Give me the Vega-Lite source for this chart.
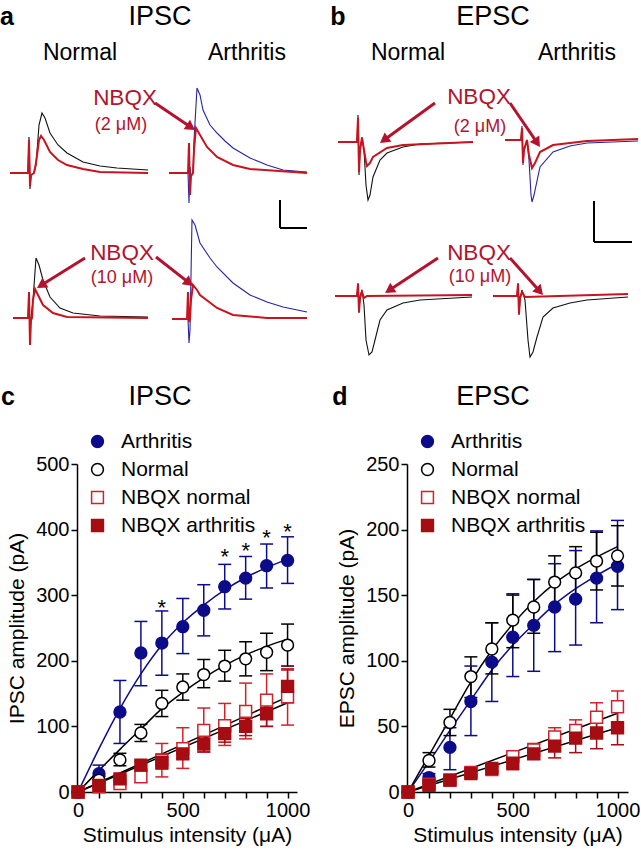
{
  "$schema": "https://vega.github.io/schema/vega-lite/v6.json",
  "padding": 0,
  "autosize": {"type": "pad"},
  "bounds": "flush",
  "columns": 2,
  "spacing": {"row": 34, "column": 110},
  "resolve": {
    "scale": {"stroke": "independent", "fill": "independent", "shape": "independent", "color": "independent", "angle": "independent"},
    "legend": {"stroke": "independent", "fill": "independent", "shape": "independent", "color": "independent"}
  },
  "datasets": {
    "tr": [
      {"pn":"a","s":"a1c","k":"ctl","x":10,"y":173},{"pn":"a","s":"a1c","k":"ctl","x":28,"y":173},{"pn":"a","s":"a1c","k":"ctl","x":29,"y":137},{"pn":"a","s":"a1c","k":"ctl","x":30,"y":189},{"pn":"a","s":"a1c","k":"ctl","x":31,"y":175},{"pn":"a","s":"a1c","k":"ctl","x":34,"y":173},{"pn":"a","s":"a1c","k":"ctl","x":36,"y":165},{"pn":"a","s":"a1c","k":"ctl","x":39,"y":125},{"pn":"a","s":"a1c","k":"ctl","x":42,"y":113},{"pn":"a","s":"a1c","k":"ctl","x":45,"y":118},{"pn":"a","s":"a1c","k":"ctl","x":50,"y":133},{"pn":"a","s":"a1c","k":"ctl","x":58,"y":145},{"pn":"a","s":"a1c","k":"ctl","x":67,"y":153},{"pn":"a","s":"a1c","k":"ctl","x":83,"y":162},{"pn":"a","s":"a1c","k":"ctl","x":100,"y":166},{"pn":"a","s":"a1c","k":"ctl","x":117,"y":168},{"pn":"a","s":"a1c","k":"ctl","x":148,"y":170},
      {"pn":"a","s":"a1n","k":"nbqx","x":10,"y":173},{"pn":"a","s":"a1n","k":"nbqx","x":28,"y":173},{"pn":"a","s":"a1n","k":"nbqx","x":29,"y":140},{"pn":"a","s":"a1n","k":"nbqx","x":30,"y":186},{"pn":"a","s":"a1n","k":"nbqx","x":31,"y":175},{"pn":"a","s":"a1n","k":"nbqx","x":34,"y":173},{"pn":"a","s":"a1n","k":"nbqx","x":36,"y":163},{"pn":"a","s":"a1n","k":"nbqx","x":39,"y":140},{"pn":"a","s":"a1n","k":"nbqx","x":41,"y":136},{"pn":"a","s":"a1n","k":"nbqx","x":44,"y":140},{"pn":"a","s":"a1n","k":"nbqx","x":50,"y":152},{"pn":"a","s":"a1n","k":"nbqx","x":58,"y":160},{"pn":"a","s":"a1n","k":"nbqx","x":67,"y":165},{"pn":"a","s":"a1n","k":"nbqx","x":83,"y":169},{"pn":"a","s":"a1n","k":"nbqx","x":100,"y":172},{"pn":"a","s":"a1n","k":"nbqx","x":148,"y":173},
      {"pn":"a","s":"a2c","k":"arth","x":169,"y":173},{"pn":"a","s":"a2c","k":"arth","x":188,"y":173},{"pn":"a","s":"a2c","k":"arth","x":189,"y":203},{"pn":"a","s":"a2c","k":"arth","x":190,"y":167},{"pn":"a","s":"a2c","k":"arth","x":191,"y":176},{"pn":"a","s":"a2c","k":"arth","x":193,"y":173},{"pn":"a","s":"a2c","k":"arth","x":194,"y":140},{"pn":"a","s":"a2c","k":"arth","x":197,"y":88},{"pn":"a","s":"a2c","k":"arth","x":200,"y":95},{"pn":"a","s":"a2c","k":"arth","x":203,"y":110},{"pn":"a","s":"a2c","k":"arth","x":210,"y":125},{"pn":"a","s":"a2c","k":"arth","x":217,"y":133},{"pn":"a","s":"a2c","k":"arth","x":225,"y":141},{"pn":"a","s":"a2c","k":"arth","x":233,"y":148},{"pn":"a","s":"a2c","k":"arth","x":250,"y":158},{"pn":"a","s":"a2c","k":"arth","x":267,"y":165},{"pn":"a","s":"a2c","k":"arth","x":283,"y":170},{"pn":"a","s":"a2c","k":"arth","x":307,"y":172},
      {"pn":"a","s":"a2n","k":"nbqx","x":169,"y":173},{"pn":"a","s":"a2n","k":"nbqx","x":188,"y":173},{"pn":"a","s":"a2n","k":"nbqx","x":189,"y":143},{"pn":"a","s":"a2n","k":"nbqx","x":190,"y":195},{"pn":"a","s":"a2n","k":"nbqx","x":191,"y":176},{"pn":"a","s":"a2n","k":"nbqx","x":193,"y":173},{"pn":"a","s":"a2n","k":"nbqx","x":194,"y":150},{"pn":"a","s":"a2n","k":"nbqx","x":196,"y":128},{"pn":"a","s":"a2n","k":"nbqx","x":200,"y":135},{"pn":"a","s":"a2n","k":"nbqx","x":207,"y":147},{"pn":"a","s":"a2n","k":"nbqx","x":217,"y":157},{"pn":"a","s":"a2n","k":"nbqx","x":233,"y":165},{"pn":"a","s":"a2n","k":"nbqx","x":250,"y":169},{"pn":"a","s":"a2n","k":"nbqx","x":307,"y":173},
      {"pn":"a","s":"a3c","k":"ctl","x":13,"y":318},{"pn":"a","s":"a3c","k":"ctl","x":28,"y":318},{"pn":"a","s":"a3c","k":"ctl","x":29,"y":300},{"pn":"a","s":"a3c","k":"ctl","x":30,"y":330},{"pn":"a","s":"a3c","k":"ctl","x":31,"y":318},{"pn":"a","s":"a3c","k":"ctl","x":33,"y":300},{"pn":"a","s":"a3c","k":"ctl","x":36,"y":258},{"pn":"a","s":"a3c","k":"ctl","x":39,"y":265},{"pn":"a","s":"a3c","k":"ctl","x":43,"y":280},{"pn":"a","s":"a3c","k":"ctl","x":50,"y":297},{"pn":"a","s":"a3c","k":"ctl","x":60,"y":308},{"pn":"a","s":"a3c","k":"ctl","x":73,"y":313},{"pn":"a","s":"a3c","k":"ctl","x":100,"y":316},{"pn":"a","s":"a3c","k":"ctl","x":148,"y":317},
      {"pn":"a","s":"a3n","k":"nbqx","x":13,"y":318},{"pn":"a","s":"a3n","k":"nbqx","x":28,"y":318},{"pn":"a","s":"a3n","k":"nbqx","x":29,"y":292},{"pn":"a","s":"a3n","k":"nbqx","x":30,"y":345},{"pn":"a","s":"a3n","k":"nbqx","x":31,"y":320},{"pn":"a","s":"a3n","k":"nbqx","x":32,"y":318},{"pn":"a","s":"a3n","k":"nbqx","x":33,"y":300},{"pn":"a","s":"a3n","k":"nbqx","x":35,"y":289},{"pn":"a","s":"a3n","k":"nbqx","x":38,"y":295},{"pn":"a","s":"a3n","k":"nbqx","x":43,"y":305},{"pn":"a","s":"a3n","k":"nbqx","x":53,"y":313},{"pn":"a","s":"a3n","k":"nbqx","x":67,"y":317},{"pn":"a","s":"a3n","k":"nbqx","x":148,"y":318},
      {"pn":"a","s":"a4c","k":"arth","x":172,"y":319},{"pn":"a","s":"a4c","k":"arth","x":188,"y":319},{"pn":"a","s":"a4c","k":"arth","x":189,"y":343},{"pn":"a","s":"a4c","k":"arth","x":190,"y":330},{"pn":"a","s":"a4c","k":"arth","x":192,"y":220},{"pn":"a","s":"a4c","k":"arth","x":195,"y":225},{"pn":"a","s":"a4c","k":"arth","x":200,"y":243},{"pn":"a","s":"a4c","k":"arth","x":210,"y":258},{"pn":"a","s":"a4c","k":"arth","x":217,"y":267},{"pn":"a","s":"a4c","k":"arth","x":233,"y":283},{"pn":"a","s":"a4c","k":"arth","x":250,"y":295},{"pn":"a","s":"a4c","k":"arth","x":267,"y":302},{"pn":"a","s":"a4c","k":"arth","x":283,"y":307},{"pn":"a","s":"a4c","k":"arth","x":307,"y":312},
      {"pn":"a","s":"a4n","k":"nbqx","x":172,"y":319},{"pn":"a","s":"a4n","k":"nbqx","x":187,"y":319},{"pn":"a","s":"a4n","k":"nbqx","x":188,"y":292},{"pn":"a","s":"a4n","k":"nbqx","x":189,"y":322},{"pn":"a","s":"a4n","k":"nbqx","x":190,"y":319},{"pn":"a","s":"a4n","k":"nbqx","x":191,"y":300},{"pn":"a","s":"a4n","k":"nbqx","x":193,"y":285},{"pn":"a","s":"a4n","k":"nbqx","x":197,"y":290},{"pn":"a","s":"a4n","k":"nbqx","x":200,"y":295},{"pn":"a","s":"a4n","k":"nbqx","x":217,"y":308},{"pn":"a","s":"a4n","k":"nbqx","x":233,"y":315},{"pn":"a","s":"a4n","k":"nbqx","x":267,"y":318},{"pn":"a","s":"a4n","k":"nbqx","x":307,"y":318},
      {"pn":"b","s":"b1c","k":"ctl","x":338,"y":142},{"pn":"b","s":"b1c","k":"ctl","x":357,"y":142},{"pn":"b","s":"b1c","k":"ctl","x":358,"y":115},{"pn":"b","s":"b1c","k":"ctl","x":359,"y":175},{"pn":"b","s":"b1c","k":"ctl","x":360,"y":150},{"pn":"b","s":"b1c","k":"ctl","x":362,"y":137},{"pn":"b","s":"b1c","k":"ctl","x":364,"y":150},{"pn":"b","s":"b1c","k":"ctl","x":366,"y":185},{"pn":"b","s":"b1c","k":"ctl","x":368,"y":200},{"pn":"b","s":"b1c","k":"ctl","x":370,"y":195},{"pn":"b","s":"b1c","k":"ctl","x":373,"y":177},{"pn":"b","s":"b1c","k":"ctl","x":380,"y":160},{"pn":"b","s":"b1c","k":"ctl","x":387,"y":153},{"pn":"b","s":"b1c","k":"ctl","x":403,"y":147},{"pn":"b","s":"b1c","k":"ctl","x":420,"y":144},{"pn":"b","s":"b1c","k":"ctl","x":473,"y":142},
      {"pn":"b","s":"b1n","k":"nbqx","x":338,"y":142},{"pn":"b","s":"b1n","k":"nbqx","x":357,"y":142},{"pn":"b","s":"b1n","k":"nbqx","x":358,"y":118},{"pn":"b","s":"b1n","k":"nbqx","x":359,"y":172},{"pn":"b","s":"b1n","k":"nbqx","x":360,"y":150},{"pn":"b","s":"b1n","k":"nbqx","x":362,"y":138},{"pn":"b","s":"b1n","k":"nbqx","x":364,"y":150},{"pn":"b","s":"b1n","k":"nbqx","x":366,"y":162},{"pn":"b","s":"b1n","k":"nbqx","x":367,"y":166},{"pn":"b","s":"b1n","k":"nbqx","x":370,"y":163},{"pn":"b","s":"b1n","k":"nbqx","x":373,"y":157},{"pn":"b","s":"b1n","k":"nbqx","x":387,"y":148},{"pn":"b","s":"b1n","k":"nbqx","x":403,"y":145},{"pn":"b","s":"b1n","k":"nbqx","x":473,"y":142},
      {"pn":"b","s":"b2c","k":"arth","x":505,"y":140},{"pn":"b","s":"b2c","k":"arth","x":521,"y":140},{"pn":"b","s":"b2c","k":"arth","x":522,"y":126},{"pn":"b","s":"b2c","k":"arth","x":523,"y":165},{"pn":"b","s":"b2c","k":"arth","x":524,"y":150},{"pn":"b","s":"b2c","k":"arth","x":527,"y":140},{"pn":"b","s":"b2c","k":"arth","x":529,"y":160},{"pn":"b","s":"b2c","k":"arth","x":531,"y":195},{"pn":"b","s":"b2c","k":"arth","x":532,"y":202},{"pn":"b","s":"b2c","k":"arth","x":534,"y":195},{"pn":"b","s":"b2c","k":"arth","x":540,"y":167},{"pn":"b","s":"b2c","k":"arth","x":553,"y":152},{"pn":"b","s":"b2c","k":"arth","x":570,"y":146},{"pn":"b","s":"b2c","k":"arth","x":587,"y":143},{"pn":"b","s":"b2c","k":"arth","x":638,"y":141},
      {"pn":"b","s":"b2n","k":"nbqx","x":505,"y":140},{"pn":"b","s":"b2n","k":"nbqx","x":521,"y":140},{"pn":"b","s":"b2n","k":"nbqx","x":522,"y":128},{"pn":"b","s":"b2n","k":"nbqx","x":523,"y":163},{"pn":"b","s":"b2n","k":"nbqx","x":524,"y":150},{"pn":"b","s":"b2n","k":"nbqx","x":527,"y":140},{"pn":"b","s":"b2n","k":"nbqx","x":529,"y":155},{"pn":"b","s":"b2n","k":"nbqx","x":532,"y":168},{"pn":"b","s":"b2n","k":"nbqx","x":535,"y":163},{"pn":"b","s":"b2n","k":"nbqx","x":540,"y":152},{"pn":"b","s":"b2n","k":"nbqx","x":553,"y":145},{"pn":"b","s":"b2n","k":"nbqx","x":587,"y":141},{"pn":"b","s":"b2n","k":"nbqx","x":638,"y":139},
      {"pn":"b","s":"b3c","k":"ctl","x":335,"y":296},{"pn":"b","s":"b3c","k":"ctl","x":357,"y":296},{"pn":"b","s":"b3c","k":"ctl","x":358,"y":283},{"pn":"b","s":"b3c","k":"ctl","x":359,"y":313},{"pn":"b","s":"b3c","k":"ctl","x":360,"y":296},{"pn":"b","s":"b3c","k":"ctl","x":362,"y":290},{"pn":"b","s":"b3c","k":"ctl","x":364,"y":305},{"pn":"b","s":"b3c","k":"ctl","x":366,"y":340},{"pn":"b","s":"b3c","k":"ctl","x":369,"y":355},{"pn":"b","s":"b3c","k":"ctl","x":372,"y":352},{"pn":"b","s":"b3c","k":"ctl","x":375,"y":340},{"pn":"b","s":"b3c","k":"ctl","x":380,"y":320},{"pn":"b","s":"b3c","k":"ctl","x":387,"y":310},{"pn":"b","s":"b3c","k":"ctl","x":403,"y":303},{"pn":"b","s":"b3c","k":"ctl","x":420,"y":300},{"pn":"b","s":"b3c","k":"ctl","x":472,"y":297},
      {"pn":"b","s":"b3n","k":"nbqx","x":335,"y":296},{"pn":"b","s":"b3n","k":"nbqx","x":357,"y":296},{"pn":"b","s":"b3n","k":"nbqx","x":358,"y":284},{"pn":"b","s":"b3n","k":"nbqx","x":359,"y":312},{"pn":"b","s":"b3n","k":"nbqx","x":360,"y":298},{"pn":"b","s":"b3n","k":"nbqx","x":362,"y":292},{"pn":"b","s":"b3n","k":"nbqx","x":364,"y":298},{"pn":"b","s":"b3n","k":"nbqx","x":367,"y":296},{"pn":"b","s":"b3n","k":"nbqx","x":472,"y":295},
      {"pn":"b","s":"b4c","k":"ctl","x":493,"y":296},{"pn":"b","s":"b4c","k":"ctl","x":517,"y":296},{"pn":"b","s":"b4c","k":"ctl","x":518,"y":283},{"pn":"b","s":"b4c","k":"ctl","x":519,"y":315},{"pn":"b","s":"b4c","k":"ctl","x":520,"y":300},{"pn":"b","s":"b4c","k":"ctl","x":522,"y":290},{"pn":"b","s":"b4c","k":"ctl","x":525,"y":300},{"pn":"b","s":"b4c","k":"ctl","x":528,"y":340},{"pn":"b","s":"b4c","k":"ctl","x":530,"y":357},{"pn":"b","s":"b4c","k":"ctl","x":533,"y":352},{"pn":"b","s":"b4c","k":"ctl","x":537,"y":337},{"pn":"b","s":"b4c","k":"ctl","x":543,"y":317},{"pn":"b","s":"b4c","k":"ctl","x":553,"y":308},{"pn":"b","s":"b4c","k":"ctl","x":570,"y":303},{"pn":"b","s":"b4c","k":"ctl","x":587,"y":300},{"pn":"b","s":"b4c","k":"ctl","x":628,"y":297},
      {"pn":"b","s":"b4n","k":"nbqx","x":493,"y":296},{"pn":"b","s":"b4n","k":"nbqx","x":517,"y":296},{"pn":"b","s":"b4n","k":"nbqx","x":518,"y":284},{"pn":"b","s":"b4n","k":"nbqx","x":519,"y":314},{"pn":"b","s":"b4n","k":"nbqx","x":520,"y":298},{"pn":"b","s":"b4n","k":"nbqx","x":522,"y":292},{"pn":"b","s":"b4n","k":"nbqx","x":525,"y":297},{"pn":"b","s":"b4n","k":"nbqx","x":628,"y":294}
    ],
    "txt": [
      {"pn":"a","kind":"letter","x":7,"y":17,"t":"a"},
      {"pn":"a","kind":"head","x":160,"y":17,"t":"IPSC"},
      {"pn":"a","kind":"sub","x":80,"y":53,"t":"Normal"},
      {"pn":"a","kind":"sub","x":247,"y":53,"t":"Arthritis"},
      {"pn":"a","kind":"nbqx","x":125,"y":98,"t":"NBQX"},
      {"pn":"a","kind":"conc","x":121,"y":125,"t":"(2 μM)"},
      {"pn":"a","kind":"nbqx","x":122,"y":253,"t":"NBQX"},
      {"pn":"a","kind":"conc","x":122,"y":278,"t":"(10 μM)"},
      {"pn":"a","kind":"letter","x":8,"y":397,"t":"c"},
      {"pn":"a","kind":"head","x":160,"y":397,"t":"IPSC"},
      {"pn":"b","kind":"letter","x":338,"y":17,"t":"b"},
      {"pn":"b","kind":"head","x":493,"y":17,"t":"EPSC"},
      {"pn":"b","kind":"sub","x":408,"y":53,"t":"Normal"},
      {"pn":"b","kind":"sub","x":577,"y":53,"t":"Arthritis"},
      {"pn":"b","kind":"nbqx","x":479,"y":97,"t":"NBQX"},
      {"pn":"b","kind":"conc","x":480,"y":127,"t":"(2 μM)"},
      {"pn":"b","kind":"nbqx","x":479,"y":253,"t":"NBQX"},
      {"pn":"b","kind":"conc","x":480,"y":277,"t":"(10 μM)"},
      {"pn":"b","kind":"letter","x":340,"y":397,"t":"d"},
      {"pn":"b","kind":"head","x":493,"y":397,"t":"EPSC"}
    ],
    "arr": [
      {"pn":"a","x":155,"y":103,"x2":190.9,"y2":127.2,"ang":34},
      {"pn":"a","x":85,"y":258,"x2":41.2,"y2":285.3,"ang":148},
      {"pn":"a","x":156,"y":257,"x2":189.1,"y2":282.9,"ang":38},
      {"pn":"b","x":435,"y":103,"x2":384,"y2":140,"ang":144},
      {"pn":"b","x":510,"y":103,"x2":537.2,"y2":142.9,"ang":56},
      {"pn":"b","x":438,"y":258,"x2":389.2,"y2":290.2,"ang":146.6},
      {"pn":"b","x":510,"y":258,"x2":539.7,"y2":291.3,"ang":48}
    ],
    "bar": [
      {"pn":"a","x":280,"y":200,"x2":280,"y2":228},
      {"pn":"a","x":280,"y":228,"x2":307,"y2":228},
      {"pn":"b","x":594,"y":201,"x2":594,"y2":242},
      {"pn":"b","x":594,"y":242,"x2":632,"y2":242}
    ],
    "cp": [
      {"grp":"Arthritis","I":0,"v":0,"lo":0,"hi":0},{"grp":"Arthritis","I":100,"v":28,"lo":18,"hi":41},{"grp":"Arthritis","I":200,"v":122,"lo":74,"hi":170},{"grp":"Arthritis","I":300,"v":212,"lo":162,"hi":260},{"grp":"Arthritis","I":400,"v":227,"lo":178,"hi":276},{"grp":"Arthritis","I":500,"v":252,"lo":211,"hi":295},{"grp":"Arthritis","I":600,"v":277,"lo":238,"hi":316},{"grp":"Arthritis","I":700,"v":313,"lo":279,"hi":347},{"grp":"Arthritis","I":800,"v":326,"lo":294,"hi":359},{"grp":"Arthritis","I":900,"v":345,"lo":311,"hi":378},{"grp":"Arthritis","I":1000,"v":353,"lo":318,"hi":389},
      {"grp":"Normal","I":0,"v":0,"lo":0,"hi":0},{"grp":"Normal","I":100,"v":18,"lo":12,"hi":24},{"grp":"Normal","I":200,"v":49,"lo":40,"hi":59},{"grp":"Normal","I":300,"v":90,"lo":77,"hi":103},{"grp":"Normal","I":400,"v":135,"lo":115,"hi":155},{"grp":"Normal","I":500,"v":160,"lo":140,"hi":180},{"grp":"Normal","I":600,"v":179,"lo":159,"hi":202},{"grp":"Normal","I":700,"v":192,"lo":169,"hi":216},{"grp":"Normal","I":800,"v":203,"lo":177,"hi":229},{"grp":"Normal","I":900,"v":213,"lo":185,"hi":242},{"grp":"Normal","I":1000,"v":224,"lo":192,"hi":256},
      {"grp":"NBQX normal","I":0,"v":0,"lo":0,"hi":0},{"grp":"NBQX normal","I":100,"v":8,"lo":4,"hi":12},{"grp":"NBQX normal","I":200,"v":13,"lo":8,"hi":18},{"grp":"NBQX normal","I":300,"v":23,"lo":15,"hi":31},{"grp":"NBQX normal","I":400,"v":48,"lo":23,"hi":74},{"grp":"NBQX normal","I":500,"v":66,"lo":36,"hi":98},{"grp":"NBQX normal","I":600,"v":94,"lo":61,"hi":128},{"grp":"NBQX normal","I":700,"v":101,"lo":71,"hi":135},{"grp":"NBQX normal","I":800,"v":123,"lo":81,"hi":166},{"grp":"NBQX normal","I":900,"v":140,"lo":100,"hi":180},{"grp":"NBQX normal","I":1000,"v":145,"lo":102,"hi":188},
      {"grp":"NBQX arthritis","I":0,"v":0,"lo":0,"hi":0},{"grp":"NBQX arthritis","I":100,"v":10,"lo":6,"hi":14},{"grp":"NBQX arthritis","I":200,"v":20,"lo":15,"hi":25},{"grp":"NBQX arthritis","I":300,"v":41,"lo":35,"hi":47},{"grp":"NBQX arthritis","I":400,"v":45,"lo":35,"hi":58},{"grp":"NBQX arthritis","I":500,"v":58,"lo":51,"hi":69},{"grp":"NBQX arthritis","I":600,"v":73,"lo":61,"hi":82},{"grp":"NBQX arthritis","I":700,"v":89,"lo":76,"hi":99},{"grp":"NBQX arthritis","I":800,"v":100,"lo":86,"hi":112},{"grp":"NBQX arthritis","I":900,"v":119,"lo":100,"hi":129},{"grp":"NBQX arthritis","I":1000,"v":161,"lo":136,"hi":186}
    ],
    "cf": [
      {"grp":"Arthritis","line":"A","I":0,"v":0},{"grp":"Arthritis","line":"A","I":100,"v":66},{"grp":"Arthritis","line":"A","I":200,"v":127},{"grp":"Arthritis","line":"A","I":300,"v":180},{"grp":"Arthritis","line":"A","I":400,"v":224},{"grp":"Arthritis","line":"A","I":500,"v":258},{"grp":"Arthritis","line":"A","I":600,"v":285},{"grp":"Arthritis","line":"A","I":700,"v":308},{"grp":"Arthritis","line":"A","I":800,"v":327},{"grp":"Arthritis","line":"A","I":900,"v":342},{"grp":"Arthritis","line":"A","I":1000,"v":355},
      {"grp":"Normal","line":"N","I":0,"v":0},{"grp":"Normal","line":"N","I":100,"v":33},{"grp":"Normal","line":"N","I":200,"v":65},{"grp":"Normal","line":"N","I":300,"v":96},{"grp":"Normal","line":"N","I":400,"v":127},{"grp":"Normal","line":"N","I":500,"v":152},{"grp":"Normal","line":"N","I":600,"v":174},{"grp":"Normal","line":"N","I":700,"v":193},{"grp":"Normal","line":"N","I":800,"v":209},{"grp":"Normal","line":"N","I":900,"v":222},{"grp":"Normal","line":"N","I":1000,"v":233},
      {"grp":"fit","line":"FN","I":0,"v":0},{"grp":"fit","line":"FN","I":1000,"v":145},
      {"grp":"fit","line":"FA","I":0,"v":0},{"grp":"fit","line":"FA","I":1000,"v":136}
    ],
    "cs": [
      {"I":400,"v":280},{"I":700,"v":358},{"I":800,"v":367},{"I":900,"v":387},{"I":1000,"v":397}
    ],
    "dp": [
      {"grp":"Arthritis","I":0,"v":0,"lo":0,"hi":0},{"grp":"Arthritis","I":100,"v":11,"lo":8,"hi":14},{"grp":"Arthritis","I":200,"v":34,"lo":17,"hi":49},{"grp":"Arthritis","I":300,"v":69,"lo":43,"hi":96},{"grp":"Arthritis","I":400,"v":99,"lo":69,"hi":129},{"grp":"Arthritis","I":500,"v":118,"lo":88,"hi":150},{"grp":"Arthritis","I":600,"v":127,"lo":92,"hi":162},{"grp":"Arthritis","I":700,"v":141,"lo":107,"hi":174},{"grp":"Arthritis","I":800,"v":147,"lo":112,"hi":184},{"grp":"Arthritis","I":900,"v":163,"lo":129,"hi":199},{"grp":"Arthritis","I":1000,"v":172,"lo":139,"hi":207},
      {"grp":"Normal","I":0,"v":0,"lo":0,"hi":0},{"grp":"Normal","I":100,"v":24,"lo":19,"hi":30},{"grp":"Normal","I":200,"v":53,"lo":43,"hi":63},{"grp":"Normal","I":300,"v":88,"lo":72,"hi":103},{"grp":"Normal","I":400,"v":109,"lo":90,"hi":129},{"grp":"Normal","I":500,"v":131,"lo":110,"hi":151},{"grp":"Normal","I":600,"v":141,"lo":121,"hi":162},{"grp":"Normal","I":700,"v":160,"lo":141,"hi":180},{"grp":"Normal","I":800,"v":167,"lo":147,"hi":187},{"grp":"Normal","I":900,"v":176,"lo":154,"hi":198},{"grp":"Normal","I":1000,"v":180,"lo":157,"hi":203},
      {"grp":"NBQX normal","I":0,"v":0,"lo":0,"hi":0},{"grp":"NBQX normal","I":100,"v":6,"lo":4,"hi":8},{"grp":"NBQX normal","I":200,"v":9,"lo":7,"hi":11},{"grp":"NBQX normal","I":300,"v":15,"lo":13,"hi":17},{"grp":"NBQX normal","I":400,"v":17,"lo":15,"hi":19},{"grp":"NBQX normal","I":500,"v":27,"lo":24,"hi":30},{"grp":"NBQX normal","I":600,"v":32,"lo":27,"hi":37},{"grp":"NBQX normal","I":700,"v":42,"lo":36,"hi":49},{"grp":"NBQX normal","I":800,"v":47,"lo":38,"hi":55},{"grp":"NBQX normal","I":900,"v":57,"lo":45,"hi":68},{"grp":"NBQX normal","I":1000,"v":65,"lo":52,"hi":77},
      {"grp":"NBQX arthritis","I":0,"v":0,"lo":0,"hi":0},{"grp":"NBQX arthritis","I":100,"v":5,"lo":3,"hi":7},{"grp":"NBQX arthritis","I":200,"v":9,"lo":7,"hi":11},{"grp":"NBQX arthritis","I":300,"v":14,"lo":12,"hi":16},{"grp":"NBQX arthritis","I":400,"v":18,"lo":16,"hi":20},{"grp":"NBQX arthritis","I":500,"v":22,"lo":17,"hi":27},{"grp":"NBQX arthritis","I":600,"v":29,"lo":25,"hi":33},{"grp":"NBQX arthritis","I":700,"v":35,"lo":26,"hi":44},{"grp":"NBQX arthritis","I":800,"v":41,"lo":30,"hi":51},{"grp":"NBQX arthritis","I":900,"v":45,"lo":33,"hi":56},{"grp":"NBQX arthritis","I":1000,"v":49,"lo":36,"hi":62}
    ],
    "df": [
      {"grp":"Arthritis","line":"A","I":0,"v":0},{"grp":"Arthritis","line":"A","I":100,"v":23},{"grp":"Arthritis","line":"A","I":200,"v":47},{"grp":"Arthritis","line":"A","I":300,"v":70},{"grp":"Arthritis","line":"A","I":400,"v":93},{"grp":"Arthritis","line":"A","I":500,"v":112},{"grp":"Arthritis","line":"A","I":600,"v":128},{"grp":"Arthritis","line":"A","I":700,"v":143},{"grp":"Arthritis","line":"A","I":800,"v":155},{"grp":"Arthritis","line":"A","I":900,"v":165},{"grp":"Arthritis","line":"A","I":1000,"v":174},
      {"grp":"Normal","line":"N","I":0,"v":0},{"grp":"Normal","line":"N","I":100,"v":28},{"grp":"Normal","line":"N","I":200,"v":56},{"grp":"Normal","line":"N","I":300,"v":84},{"grp":"Normal","line":"N","I":400,"v":108},{"grp":"Normal","line":"N","I":500,"v":128},{"grp":"Normal","line":"N","I":600,"v":145},{"grp":"Normal","line":"N","I":700,"v":159},{"grp":"Normal","line":"N","I":800,"v":170},{"grp":"Normal","line":"N","I":900,"v":179},{"grp":"Normal","line":"N","I":1000,"v":187},
      {"grp":"fit","line":"FN","I":0,"v":0},{"grp":"fit","line":"FN","I":1000,"v":60},
      {"grp":"fit","line":"FA","I":0,"v":0},{"grp":"fit","line":"FA","I":1000,"v":49}
    ]
  },
  "concat": [
    {
      "width": 220, "height": 430,
      "encoding": {
        "x": {"field": "x", "type": "quantitative", "scale": {"domain": [77, 297], "nice": false, "zero": false}, "axis": null},
        "y": {"field": "y", "type": "quantitative", "scale": {"domain": [0, 430], "nice": false, "zero": false, "reverse": true}, "axis": null}
      },
      "layer": [
        {"data": {"values": [{"x": 0, "y": 0, "x2": 641, "y2": 853}]}, "mark": {"type": "rect", "fill": "white"}, "encoding": {"x2": {"field": "x2"}, "y2": {"field": "y2"}}},
        {"data": {"name": "tr"}, "transform": [{"filter": "datum.pn === 'a' && datum.k !== 'nbqx'"}], "mark": {"type": "line", "strokeWidth": 1.1}, "encoding": {"detail": {"field": "s"}, "color": {"field": "k", "type": "nominal", "scale": {"domain": ["ctl", "arth", "nbqx"], "range": ["#111111", "#2424a8", "#c8141e"]}, "legend": null}}},
        {"data": {"name": "tr"}, "transform": [{"filter": "datum.pn === 'a' && datum.k === 'nbqx'"}], "mark": {"type": "line", "strokeWidth": 2}, "encoding": {"detail": {"field": "s"}, "color": {"field": "k", "type": "nominal", "legend": null}}},
        {"data": {"name": "bar"}, "transform": [{"filter": "datum.pn === 'a'"}], "mark": {"type": "rule", "color": "black", "strokeWidth": 2}, "encoding": {"x2": {"field": "x2"}, "y2": {"field": "y2"}}},
        {"data": {"name": "arr"}, "transform": [{"filter": "datum.pn === 'a'"}], "mark": {"type": "rule", "color": "#b3132d", "strokeWidth": 3}, "encoding": {"x2": {"field": "x2"}, "y2": {"field": "y2"}}},
        {"data": {"name": "arr"}, "transform": [{"filter": "datum.pn === 'a'"}], "mark": {"type": "point", "shape": "triangle-right", "filled": true, "color": "#b3132d", "size": 130, "opacity": 1}, "encoding": {"x": {"field": "x2", "type": "quantitative"}, "y": {"field": "y2", "type": "quantitative"}, "angle": {"field": "ang", "type": "quantitative", "scale": null}}},
        {"data": {"name": "txt"}, "transform": [{"filter": "datum.pn === 'a' && datum.kind === 'letter'"}], "mark": {"type": "text", "fontSize": 25, "fontWeight": "bold", "baseline": "middle", "align": "center", "color": "black"}, "encoding": {"text": {"field": "t"}}},
        {"data": {"name": "txt"}, "transform": [{"filter": "datum.pn === 'a' && datum.kind === 'head'"}], "mark": {"type": "text", "fontSize": 27, "baseline": "middle", "align": "center", "color": "black"}, "encoding": {"text": {"field": "t"}}},
        {"data": {"name": "txt"}, "transform": [{"filter": "datum.pn === 'a' && datum.kind === 'sub'"}], "mark": {"type": "text", "fontSize": 23, "baseline": "middle", "align": "center", "color": "black"}, "encoding": {"text": {"field": "t"}}},
        {"data": {"name": "txt"}, "transform": [{"filter": "datum.pn === 'a' && datum.kind === 'nbqx'"}], "mark": {"type": "text", "fontSize": 22.5, "baseline": "middle", "align": "center", "color": "#b3132d"}, "encoding": {"text": {"field": "t"}}},
        {"data": {"name": "txt"}, "transform": [{"filter": "datum.pn === 'a' && datum.kind === 'conc'"}], "mark": {"type": "text", "fontSize": 18, "baseline": "middle", "align": "center", "color": "#b3132d"}, "encoding": {"text": {"field": "t"}}}
      ]
    },
    {
      "width": 221, "height": 430,
      "encoding": {
        "x": {"field": "x", "type": "quantitative", "scale": {"domain": [407, 628], "nice": false, "zero": false}, "axis": null},
        "y": {"field": "y", "type": "quantitative", "scale": {"domain": [0, 430], "nice": false, "zero": false, "reverse": true}, "axis": null}
      },
      "layer": [
        {"data": {"name": "tr"}, "transform": [{"filter": "datum.pn === 'b' && datum.k !== 'nbqx'"}], "mark": {"type": "line", "strokeWidth": 1.1}, "encoding": {"detail": {"field": "s"}, "color": {"field": "k", "type": "nominal", "scale": {"domain": ["ctl", "arth", "nbqx"], "range": ["#111111", "#2424a8", "#c8141e"]}, "legend": null}}},
        {"data": {"name": "tr"}, "transform": [{"filter": "datum.pn === 'b' && datum.k === 'nbqx'"}], "mark": {"type": "line", "strokeWidth": 2}, "encoding": {"detail": {"field": "s"}, "color": {"field": "k", "type": "nominal", "legend": null}}},
        {"data": {"name": "bar"}, "transform": [{"filter": "datum.pn === 'b'"}], "mark": {"type": "rule", "color": "black", "strokeWidth": 2}, "encoding": {"x2": {"field": "x2"}, "y2": {"field": "y2"}}},
        {"data": {"name": "arr"}, "transform": [{"filter": "datum.pn === 'b'"}], "mark": {"type": "rule", "color": "#b3132d", "strokeWidth": 3}, "encoding": {"x2": {"field": "x2"}, "y2": {"field": "y2"}}},
        {"data": {"name": "arr"}, "transform": [{"filter": "datum.pn === 'b'"}], "mark": {"type": "point", "shape": "triangle-right", "filled": true, "color": "#b3132d", "size": 130, "opacity": 1}, "encoding": {"x": {"field": "x2", "type": "quantitative"}, "y": {"field": "y2", "type": "quantitative"}, "angle": {"field": "ang", "type": "quantitative", "scale": null}}},
        {"data": {"name": "txt"}, "transform": [{"filter": "datum.pn === 'b' && datum.kind === 'letter'"}], "mark": {"type": "text", "fontSize": 25, "fontWeight": "bold", "baseline": "middle", "align": "center", "color": "black"}, "encoding": {"text": {"field": "t"}}},
        {"data": {"name": "txt"}, "transform": [{"filter": "datum.pn === 'b' && datum.kind === 'head'"}], "mark": {"type": "text", "fontSize": 27, "baseline": "middle", "align": "center", "color": "black"}, "encoding": {"text": {"field": "t"}}},
        {"data": {"name": "txt"}, "transform": [{"filter": "datum.pn === 'b' && datum.kind === 'sub'"}], "mark": {"type": "text", "fontSize": 23, "baseline": "middle", "align": "center", "color": "black"}, "encoding": {"text": {"field": "t"}}},
        {"data": {"name": "txt"}, "transform": [{"filter": "datum.pn === 'b' && datum.kind === 'nbqx'"}], "mark": {"type": "text", "fontSize": 22.5, "baseline": "middle", "align": "center", "color": "#b3132d"}, "encoding": {"text": {"field": "t"}}},
        {"data": {"name": "txt"}, "transform": [{"filter": "datum.pn === 'b' && datum.kind === 'conc'"}], "mark": {"type": "text", "fontSize": 18, "baseline": "middle", "align": "center", "color": "#b3132d"}, "encoding": {"text": {"field": "t"}}}
      ]
    },
    {
      "width": 220, "height": 328,
      "data": {"name": "cp"},
      "encoding": {
        "x": {"field": "I", "type": "quantitative", "scale": {"domain": [-5, 1045], "nice": false, "zero": false},
              "axis": {"title": "Stimulus intensity (μA)", "values": [0,100,200,300,400,500,600,700,800,900,1000], "format": "d", "labelExpr": "datum.value % 500 === 0 ? datum.label : ''", "labelFlush": false, "labelOverlap": false, "labelPadding": 2, "titlePadding": 4}},
        "y": {"field": "v", "type": "quantitative", "title": "IPSC amplitude (pA)", "scale": {"domain": [0, 500], "nice": false, "zero": false},
              "axis": {"values": [0,100,200,300,400,500], "format": "d", "labelPadding": 2, "titlePadding": 8}}
      },
      "layer": [
        {"data": {"name": "cf"}, "mark": {"type": "line", "strokeWidth": 1.5, "interpolate": "monotone"},
         "encoding": {"detail": {"field": "line"}, "stroke": {"field": "grp", "type": "nominal"}}},
        {"mark": {"type": "rule", "strokeWidth": 1.5},
         "encoding": {"y": {"field": "lo", "type": "quantitative", "title": "IPSC amplitude (pA)"}, "y2": {"field": "hi"}, "stroke": {"field": "grp", "type": "nominal"}}},
        {"mark": {"type": "point", "shape": "stroke", "size": 169, "strokeWidth": 1.5, "opacity": 1},
         "encoding": {"y": {"field": "lo", "type": "quantitative", "title": "IPSC amplitude (pA)"}, "stroke": {"field": "grp", "type": "nominal"}}},
        {"mark": {"type": "point", "shape": "stroke", "size": 169, "strokeWidth": 1.5, "opacity": 1},
         "encoding": {"y": {"field": "hi", "type": "quantitative", "title": "IPSC amplitude (pA)"}, "stroke": {"field": "grp", "type": "nominal"}}},
        {"mark": {"type": "point", "size": 140, "strokeWidth": 1.5, "opacity": 1},
         "encoding": {
           "stroke": {"field": "grp", "type": "nominal", "scale": {"domain": ["Arthritis", "Normal", "NBQX normal", "NBQX arthritis", "fit"], "range": ["#0c0c8a", "#000000", "#d0222c", "#a50d12", "#000000"]},
                      "legend": {"orient": "none", "legendX": 10, "legendY": -33, "title": null, "values": ["Arthritis", "Normal", "NBQX normal", "NBQX arthritis"], "labelFontSize": 21, "labelColor": "black", "symbolSize": 140, "symbolStrokeWidth": 1.5, "rowPadding": 6, "labelOffset": 13, "padding": 0}},
           "fill": {"field": "grp", "type": "nominal", "scale": {"domain": ["Arthritis", "Normal", "NBQX normal", "NBQX arthritis", "fit"], "range": ["#0c0c8a", "#ffffff", "#ffffff", "#a50d12", "#ffffff"]},
                      "legend": {"orient": "none", "legendX": 10, "legendY": -33, "title": null, "values": ["Arthritis", "Normal", "NBQX normal", "NBQX arthritis"], "labelFontSize": 21, "labelColor": "black", "symbolSize": 140, "symbolStrokeWidth": 1.5, "rowPadding": 6, "labelOffset": 13, "padding": 0}},
           "shape": {"field": "grp", "type": "nominal", "scale": {"domain": ["Arthritis", "Normal", "NBQX normal", "NBQX arthritis", "fit"], "range": ["circle", "circle", "square", "square", "circle"]},
                      "legend": {"orient": "none", "legendX": 10, "legendY": -33, "title": null, "values": ["Arthritis", "Normal", "NBQX normal", "NBQX arthritis"], "labelFontSize": 21, "labelColor": "black", "symbolSize": 140, "symbolStrokeWidth": 1.5, "rowPadding": 6, "labelOffset": 13, "padding": 0}}
         }},
        {"data": {"name": "cs"}, "mark": {"type": "text", "text": "*", "fontSize": 22, "baseline": "middle", "align": "center", "color": "black"}}
      ]
    },
    {
      "width": 221, "height": 328,
      "data": {"name": "dp"},
      "encoding": {
        "x": {"field": "I", "type": "quantitative", "scale": {"domain": [-5, 1050], "nice": false, "zero": false},
              "axis": {"title": "Stimulus intensity (μA)", "values": [0,100,200,300,400,500,600,700,800,900,1000], "format": "d", "labelExpr": "datum.value % 500 === 0 ? datum.label : ''", "labelFlush": false, "labelOverlap": false, "labelPadding": 2, "titlePadding": 4}},
        "y": {"field": "v", "type": "quantitative", "title": "EPSC amplitude (pA)", "scale": {"domain": [0, 250], "nice": false, "zero": false},
              "axis": {"values": [0,50,100,150,200,250], "format": "d", "labelPadding": 2, "titlePadding": 8}}
      },
      "layer": [
        {"data": {"name": "df"}, "mark": {"type": "line", "strokeWidth": 1.5, "interpolate": "monotone"},
         "encoding": {"detail": {"field": "line"}, "stroke": {"field": "grp", "type": "nominal"}}},
        {"mark": {"type": "rule", "strokeWidth": 1.5},
         "encoding": {"y": {"field": "lo", "type": "quantitative", "title": "EPSC amplitude (pA)"}, "y2": {"field": "hi"}, "stroke": {"field": "grp", "type": "nominal"}}},
        {"mark": {"type": "point", "shape": "stroke", "size": 169, "strokeWidth": 1.5, "opacity": 1},
         "encoding": {"y": {"field": "lo", "type": "quantitative", "title": "EPSC amplitude (pA)"}, "stroke": {"field": "grp", "type": "nominal"}}},
        {"mark": {"type": "point", "shape": "stroke", "size": 169, "strokeWidth": 1.5, "opacity": 1},
         "encoding": {"y": {"field": "hi", "type": "quantitative", "title": "EPSC amplitude (pA)"}, "stroke": {"field": "grp", "type": "nominal"}}},
        {"mark": {"type": "point", "size": 140, "strokeWidth": 1.5, "opacity": 1},
         "encoding": {
           "stroke": {"field": "grp", "type": "nominal", "scale": {"domain": ["Arthritis", "Normal", "NBQX normal", "NBQX arthritis", "fit"], "range": ["#0c0c8a", "#000000", "#d0222c", "#a50d12", "#000000"]},
                      "legend": {"orient": "none", "legendX": 10, "legendY": -33, "title": null, "values": ["Arthritis", "Normal", "NBQX normal", "NBQX arthritis"], "labelFontSize": 21, "labelColor": "black", "symbolSize": 140, "symbolStrokeWidth": 1.5, "rowPadding": 6, "labelOffset": 13, "padding": 0}},
           "fill": {"field": "grp", "type": "nominal", "scale": {"domain": ["Arthritis", "Normal", "NBQX normal", "NBQX arthritis", "fit"], "range": ["#0c0c8a", "#ffffff", "#ffffff", "#a50d12", "#ffffff"]},
                      "legend": {"orient": "none", "legendX": 10, "legendY": -33, "title": null, "values": ["Arthritis", "Normal", "NBQX normal", "NBQX arthritis"], "labelFontSize": 21, "labelColor": "black", "symbolSize": 140, "symbolStrokeWidth": 1.5, "rowPadding": 6, "labelOffset": 13, "padding": 0}},
           "shape": {"field": "grp", "type": "nominal", "scale": {"domain": ["Arthritis", "Normal", "NBQX normal", "NBQX arthritis", "fit"], "range": ["circle", "circle", "square", "square", "circle"]},
                      "legend": {"orient": "none", "legendX": 10, "legendY": -33, "title": null, "values": ["Arthritis", "Normal", "NBQX normal", "NBQX arthritis"], "labelFontSize": 21, "labelColor": "black", "symbolSize": 140, "symbolStrokeWidth": 1.5, "rowPadding": 6, "labelOffset": 13, "padding": 0}}
         }}
      ]
    }
  ],
  "config": {
    "font": "Liberation Sans",
    "view": {"stroke": null},
    "axis": {"domainColor": "black", "domainWidth": 1.5, "tickColor": "black", "tickWidth": 1.5, "tickSize": 6, "labelFontSize": 20, "labelColor": "black", "titleFontSize": 21, "titleColor": "black", "titleFontWeight": "normal", "grid": false},
    "legend": {"labelFont": "Liberation Sans"}
  }
}
